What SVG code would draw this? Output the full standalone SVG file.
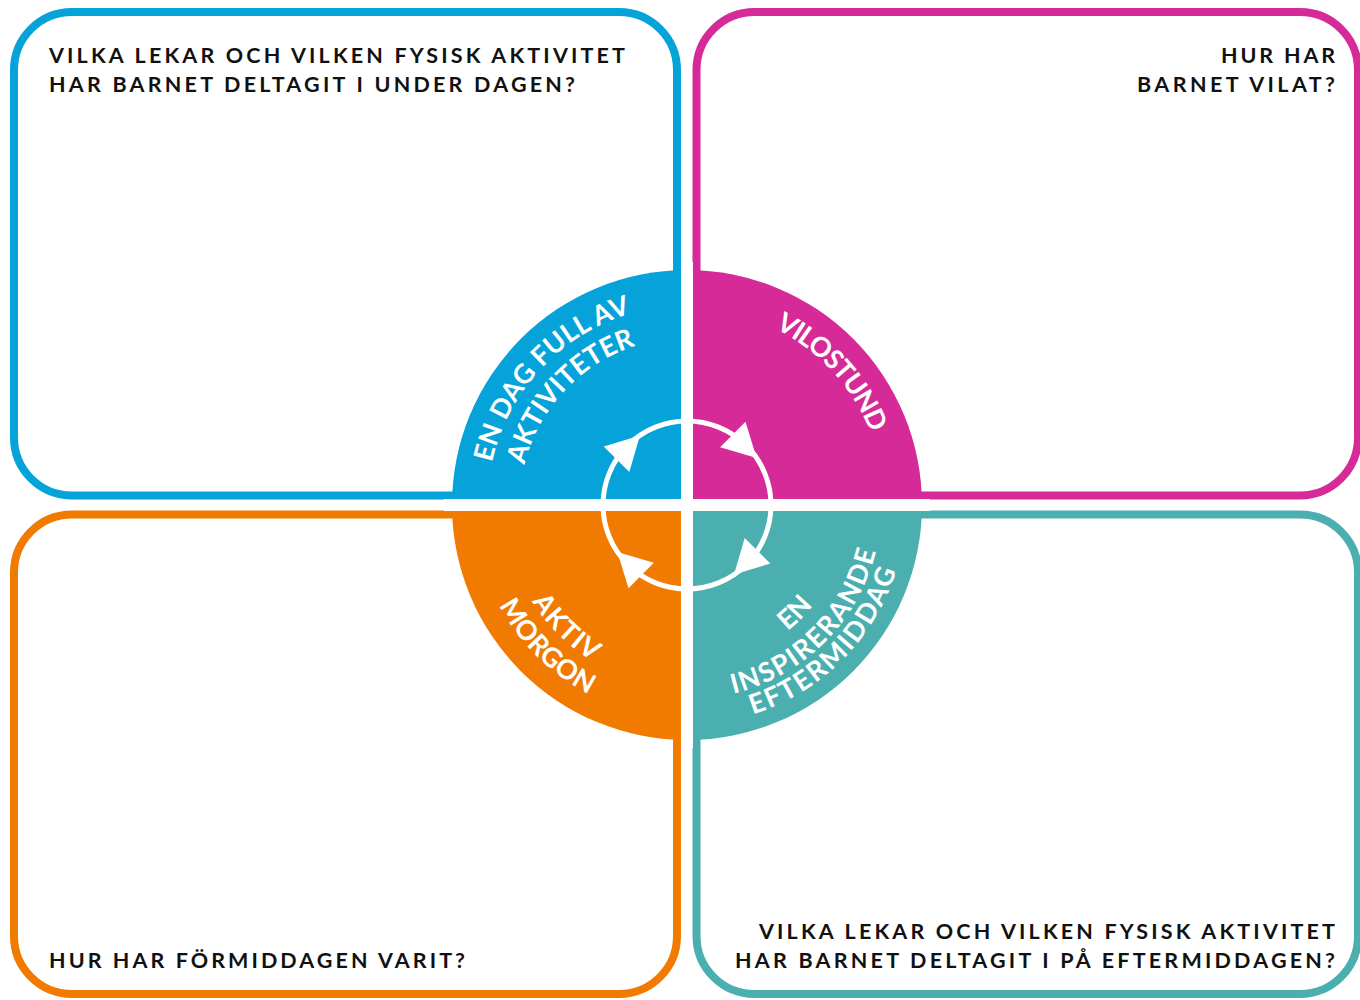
<svg xmlns="http://www.w3.org/2000/svg" width="1360" height="1000" viewBox="0 0 1360 1000">
<style>
.box{fill:#fff;stroke-width:8}
.q{font-family:"Lato","Liberation Sans",sans-serif;font-weight:700;font-size:21.5px;fill:#111;letter-spacing:2px}
.c{font-family:"Lato","Liberation Sans",sans-serif;font-weight:700;font-size:27px;fill:#fff}
</style>
<defs>
<path id="pBlueOut" d="M487.8,487.6 A200,200 0 0 1 886.2,487.6"/>
<path id="pBlueIn" d="M520.6,490.4 A167,167 0 0 1 853.4,490.4"/>
<path id="pPink" d="M491,487.8 A196.7,196.7 0 0 1 883,487.8"/>
<path id="pTealEft" d="M468.8,524.1 A219,219 0 0 0 905.2,524.1"/>
<path id="pTealIns" d="M493.7,521.9 A194,194 0 0 0 880.3,521.9"/>
<path id="pTealEn" d="M526.6,519 A161,161 0 0 0 847.4,519"/>
<path id="pOrAkt" d="M505.2,520.9 A182.5,182.5 0 0 0 868.8,520.9"/>
<path id="pOrMor" d="M474.8,523.6 A213,213 0 0 0 899.2,523.6"/>
<polygon id="arrow" points="756.6,458 720.1,447.3 745.5,421.7" fill="#fff"/>
</defs>

<g id="box-blue">
<rect class="box" x="14" y="12" width="663" height="483.5" rx="58" stroke="#05A3D9"/>
<text class="q" x="49" y="62.5" textLength="578" lengthAdjust="spacing">VILKA LEKAR OCH VILKEN FYSISK AKTIVITET</text>
<text class="q" x="49" y="92" textLength="528" lengthAdjust="spacing">HAR BARNET DELTAGIT I UNDER DAGEN?</text>
</g>
<g id="box-pink">
<rect class="box" x="696.5" y="12" width="661.5" height="483.5" rx="58" stroke="#D52A97"/>
<text class="q" x="1337" y="62.5" text-anchor="end" textLength="116" lengthAdjust="spacing">HUR HAR</text>
<text class="q" x="1337" y="92" text-anchor="end" textLength="200" lengthAdjust="spacing">BARNET VILAT?</text>
</g>
<g id="box-orange">
<rect class="box" x="14" y="514.5" width="663" height="479.5" rx="58" stroke="#F17A00"/>
<text class="q" x="49" y="967.5" textLength="418" lengthAdjust="spacing">HUR HAR FÖRMIDDAGEN VARIT?</text>
</g>
<g id="box-teal">
<rect class="box" x="696.5" y="514.5" width="661.5" height="479.5" rx="58" stroke="#4AAFAE"/>
<text class="q" x="1337" y="939" text-anchor="end" textLength="578" lengthAdjust="spacing">VILKA LEKAR OCH VILKEN FYSISK AKTIVITET</text>
<text class="q" x="1337" y="968" text-anchor="end" textLength="602" lengthAdjust="spacing">HAR BARNET DELTAGIT I PÅ EFTERMIDDAGEN?</text>
</g>

<g id="wedge-blue">
<path d="M687,505 L452,505 A235,235 0 0 1 687,270 Z" fill="#05A3D9"/>
</g>
<g id="wedge-pink">
<path d="M687,505 L687,270 A235,235 0 0 1 922,505 Z" fill="#D52A97"/>
</g>
<g id="wedge-teal">
<path d="M687,505 L922,505 A235,235 0 0 1 687,740 Z" fill="#4AAFAE"/>
</g>
<g id="wedge-orange">
<path d="M687,505 L687,740 A235,235 0 0 1 452,505 Z" fill="#F17A00"/>
</g>
<g id="gaps" fill="#fff">
<rect x="681" y="262" width="12" height="486"/>
<rect x="444" y="499" width="486" height="12"/>
</g>

<g id="label-blue">
<text class="c" transform="rotate(-47 687 505)"><textPath href="#pBlueOut" startOffset="50%" text-anchor="middle" textLength="214" lengthAdjust="spacing">EN DAG FULL AV</textPath></text>
<text class="c" transform="rotate(-47 687 505)"><textPath href="#pBlueIn" startOffset="50%" text-anchor="middle" textLength="170" lengthAdjust="spacing">AKTIVITETER</textPath></text>
</g>
<g id="label-pink">
<text class="c" transform="rotate(47.5 687 505)"><textPath href="#pPink" startOffset="50%" text-anchor="middle" textLength="145" lengthAdjust="spacing">VILOSTUND</textPath></text>
</g>
<g id="label-teal">
<text class="c" transform="rotate(-45 687 505)"><textPath href="#pTealEn" startOffset="50%" text-anchor="middle">EN</textPath></text>
<text class="c" transform="rotate(-45 687 505)"><textPath href="#pTealIns" startOffset="50%" text-anchor="middle" textLength="212" lengthAdjust="spacing">INSPIRERANDE</textPath></text>
<text class="c" transform="rotate(-45 687 505)"><textPath href="#pTealEft" startOffset="50%" text-anchor="middle" textLength="211" lengthAdjust="spacing">EFTERMIDDAG</textPath></text>
</g>
<g id="label-orange">
<text class="c" transform="rotate(44.7 687 505)"><textPath href="#pOrAkt" startOffset="50%" text-anchor="middle" textLength="86" lengthAdjust="spacing">AKTIV</textPath></text>
<text class="c" transform="rotate(44.7 687 505)"><textPath href="#pOrMor" startOffset="50%" text-anchor="middle" textLength="128" lengthAdjust="spacing">MORGON</textPath></text>
</g>

<g id="connectors">
<circle cx="687" cy="505" r="84" fill="none" stroke="#fff" stroke-width="5"/>
<use href="#arrow"/>
<use href="#arrow" transform="rotate(90 687 505)"/>
<use href="#arrow" transform="rotate(180 687 505)"/>
<use href="#arrow" transform="rotate(270 687 505)"/>
</g>
</svg>
